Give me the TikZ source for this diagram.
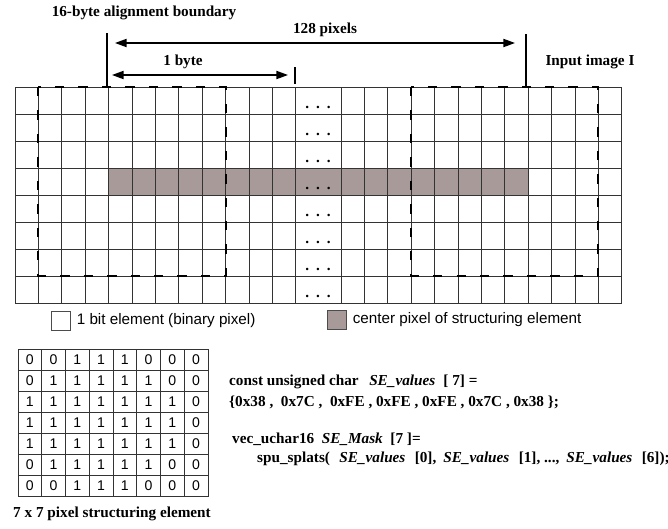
\documentclass[tikz,border=0pt]{standalone}
\usepackage{fontspec}
\setmainfont{Liberation Serif}
\setsansfont{Liberation Sans}
\usetikzlibrary{arrows.meta,positioning}
\definecolor{sebrown}{RGB}{168,154,152}
\begin{document}
\begin{tikzpicture}[x=0.03cm,y=-0.03cm,
    gridline/.style={black!80,line width=0.6pt},
    bytebox/.style={line width=1.8pt,dash pattern=on 8pt off 12pt},
    tick/.style={line width=1.6pt},
    span/.style={line width=1.3pt,{Triangle[length=10pt,width=7pt]}-{Triangle[length=10pt,width=7pt]}},
    title/.style={font=\bfseries\fontsize{13}{15}\selectfont,inner sep=0pt},
    code/.style={font=\bfseries\fontsize{13}{15}\selectfont,inner sep=0pt,anchor=west},
    dots/.style={font=\bfseries\fontsize{13}{15}\selectfont,inner sep=0pt,anchor=base},
    legbox/.style={draw=black!70,line width=0.6pt,minimum size=0.57cm,inner sep=0pt},
    legtext/.style={font=\sffamily\fontsize{13}{15}\selectfont},
    secell/.style={draw=black!80,line width=0.6pt,minimum width=0.7125cm,minimum height=0.63cm,
        inner sep=0pt,font=\sffamily\fontsize{12}{14}\selectfont}]
    \useasboundingbox (0,0) rectangle (668,528);

    \fill[sebrown] (108.6,168) rectangle (528.2,195);
    \foreach \i in {0,...,12} {
        \draw[gridline] (15+23.4*\i,87) -- (15+23.4*\i,303);
        \draw[gridline] (341+23.4*\i,87) -- (341+23.4*\i,303);
    }
    \foreach \k in {0,...,8}
        \draw[gridline] (15,87+27*\k) -- (621.8,87+27*\k);
    \foreach \k in {0,...,7}
        \node[dots] (dots\k) at (318,108+27*\k) {.\hspace{6pt}.\hspace{6pt}.};

    \draw[bytebox] (38.4,87) rectangle (225.6,276);
    \draw[bytebox] (411.2,87) rectangle (598.4,276);

    \node[title] (align) at (144,13) {16-byte alignment boundary};
    \node[title] (pix) at (325,30) {128 pixels};
    \node[title] (byte) at (183,62) {1 byte};
    \node[title] (input) at (590,62) {Input image I};

    \coordinate (starttop) at (107,33);
    \coordinate (startbot) at (107,86);
    \coordinate (endtop) at (526,34);
    \coordinate (endbot) at (526,86);
    \coordinate (bytetop) at (295,67);
    \coordinate (bytebot) at (295,84);
    \coordinate (pixl) at (115,43);
    \coordinate (pixr) at (515,43);
    \coordinate (bytel) at (112,75);
    \coordinate (byter) at (288,75);

    \draw[tick] (starttop) -- (startbot);
    \draw[tick] (endtop) -- (endbot);
    \draw[tick] (bytetop) -- (bytebot);
    \path[span]
        (pixl) edge (pixr)
        (bytel) edge (byter);

    \node[legbox] (bitbox) at (60.5,321) {};
    \node[legtext,right=2pt of bitbox] (bitlabel) {1 bit element (binary pixel)};
    \node[legbox,fill=sebrown] (centerbox) at (336.5,320) {};
    \node[legtext,right=2pt of centerbox] (centerlabel) {center pixel of structuring element};

    \foreach \row [count=\r from 0] in {{0,0,1,1,1,0,0,0},{0,1,1,1,1,1,0,0},{1,1,1,1,1,1,1,0},
        {1,1,1,1,1,1,1,0},{1,1,1,1,1,1,1,0},{0,1,1,1,1,1,0,0},{0,0,1,1,1,0,0,0}}
        \foreach \v [count=\c from 0] in \row
            \node[secell] (se\r\c) at (29.9+23.75*\c,359.5+21*\r) {\v};
    \node[title] (secap) at (112,514) {7 x 7 pixel structuring element};

    \node[code] (decl) at (229,382) {const unsigned char\hspace{9pt}\textit{SE\_values}\hspace{7pt}[ 7] =};
    \node[code] (init) at (229,402) {\{0x38 ,\enspace 0x7C ,\enspace 0xFE , 0xFE , 0xFE , 0x7C , 0x38 \};};
    \node[code] (mask) at (232,439) {vec\_uchar16\enspace \textit{SE\_Mask}\enspace [7 ]=};
    \node[code] (splat) at (257,459) {spu\_splats(\hspace{8pt}\textit{SE\_values}\hspace{8pt}[0],\hspace{6pt}\textit{SE\_values}\hspace{8pt}[1], ...,\hspace{6pt}\textit{SE\_values}\hspace{8pt}[6]);};
\end{tikzpicture}
\end{document}
